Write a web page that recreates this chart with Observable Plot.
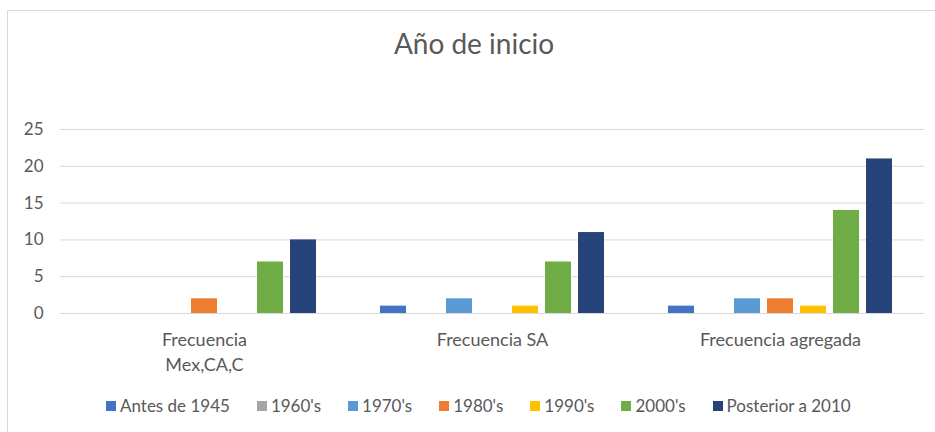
<!DOCTYPE html>
<html><head><meta charset="utf-8">
<script src="https://cdn.jsdelivr.net/npm/d3@7"></script>
<script src="https://cdn.jsdelivr.net/npm/@observablehq/plot@0.6"></script>
<style>
body{margin:0;background:#fff;font-family:Lato,sans-serif;}
#wrap{position:relative;width:935px;height:432px;overflow:hidden;}
#frame{position:absolute;left:7px;top:10px;width:935px;height:430px;border-top:1.5px solid #d9d9d9;border-left:1.5px solid #d9d9d9;}
#title{position:absolute;top:26px;left:0;width:948px;text-align:center;font-size:28px;color:#595959;}
#chart{position:absolute;top:90px;left:0;}
#legend{position:absolute;top:395px;left:106px;display:flex;gap:27px;font-size:17px;color:#595959;white-space:nowrap;}
.item{display:flex;align-items:center;gap:4px;}
.sw{width:10px;height:10px;display:inline-block;}
</style>
</head><body>
<div id="wrap">
  <div id="frame"></div>
  <div id="title">Año de inicio</div>
  <div id="chart"></div>
  <div id="legend"></div>
</div>
<script>
const groups = ["Frecuencia Mex,CA,C", "Frecuencia SA", "Frecuencia agregada"];
const groupLabels = ["Frecuencia\nMex,CA,C", "Frecuencia SA", "Frecuencia agregada"];
const series = ["Antes de 1945", "1960's", "1970's", "1980's", "1990's", "2000's", "Posterior a 2010"];
const colors = ["#4472C4", "#A5A5A5", "#5B9BD5", "#ED7D31", "#FFC000", "#70AD47", "#264478"];
const antes1945 = [0, 1, 1];
const s1960 = [0, 0, 0];
const s1970 = [0, 2, 2];
const s1980 = [2, 0, 2];
const s1990 = [0, 1, 1];
const s2000 = [7, 7, 14];
const posterior2010 = [10, 11, 21];
const yTicks = [0, 5, 10, 15, 20, 25];

const values = [antes1945, s1960, s1970, s1980, s1990, s2000, posterior2010];
const rows = [];
groups.forEach((g, gi) => series.forEach((s, si) => rows.push({group: g, series: s, value: values[si][gi]})));

const chart = Plot.plot({
  width: 935, height: 290,
  marginLeft: 60, marginRight: 11, marginTop: 39, marginBottom: 67,
  style: {fontFamily: "Lato, sans-serif", fontSize: "16px", color: "#595959", background: "transparent"},
  fx: {domain: groups, padding: 0, label: null},
  x: {domain: series, paddingInner: 0.22, paddingOuter: 0.935, axis: null},
  y: {domain: [0, 25], label: null},
  color: {domain: series, range: colors},
  marks: [
    Plot.ruleY(yTicks, {stroke: "#d9d9d9", strokeWidth: 1}),
    Plot.barY(rows, {fx: "group", x: "series", y: "value", fill: "series"}),
    Plot.axisY({ticks: yTicks, tickSize: 0, tickPadding: 17, label: null, fontSize: 17}),
    Plot.axisFx({anchor: "bottom", tickSize: 0, tickPadding: 15, label: null, fontSize: 18, lineHeight: 1.38,
      tickFormat: d => groupLabels[groups.indexOf(d)]})
  ]
});
document.getElementById("chart").appendChild(chart);

const legend = document.getElementById("legend");
series.forEach((s, i) => {
  const item = document.createElement("div");
  item.className = "item";
  const sw = document.createElement("span");
  sw.className = "sw";
  sw.style.background = colors[i];
  const t = document.createElement("span");
  t.textContent = s;
  item.appendChild(sw); item.appendChild(t);
  legend.appendChild(item);
});
</script>
</body></html>
